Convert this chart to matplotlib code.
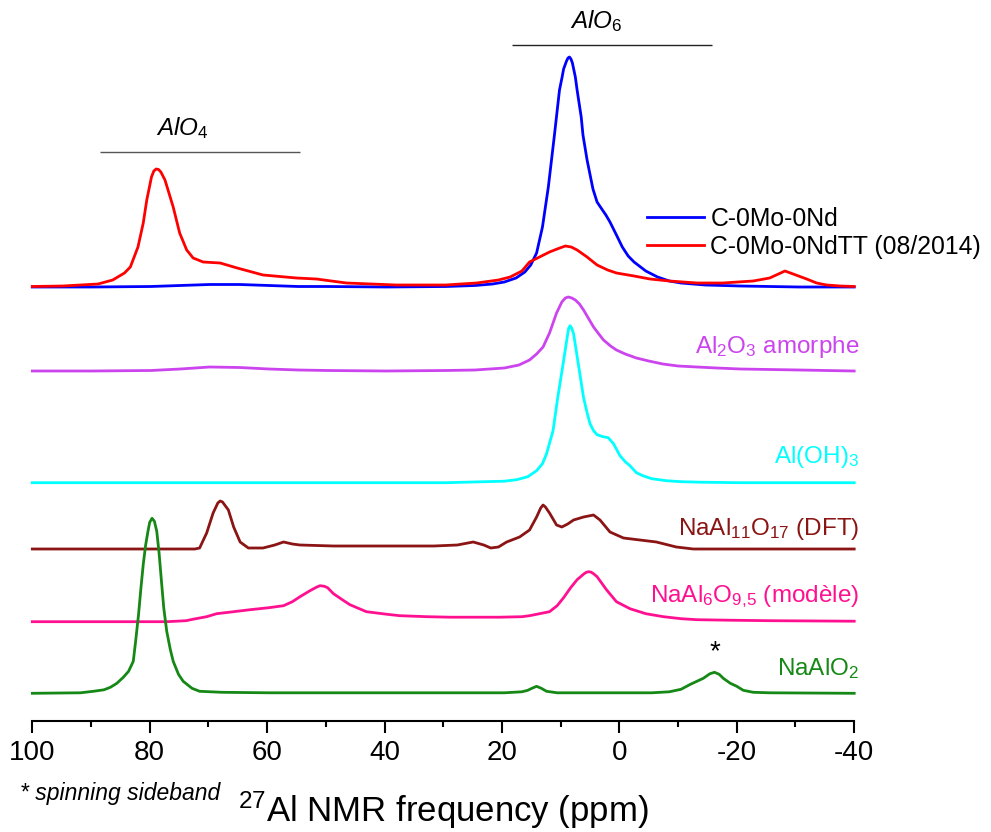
import matplotlib
matplotlib.use("Agg")
import matplotlib.pyplot as plt
from matplotlib.ticker import MultipleLocator

plt.rcParams['font.family'] = ['Liberation Sans', 'DejaVu Sans']
plt.rcParams['mathtext.fontset'] = 'custom'
plt.rcParams['mathtext.rm'] = 'Liberation Sans'
plt.rcParams['mathtext.it'] = 'Liberation Sans:italic'
plt.rcParams['mathtext.bf'] = 'Liberation Sans:bold'
plt.rcParams['mathtext.default'] = 'regular'

# ---------------- data (ppm, intensity above own baseline) ----------------
ppm_c0 = [100, 89.8, 79.8, 74.8, 69.8, 64.7, 59.7, 54.7, 49.7, 39.7, 29.6, 24.6, 21.6, 19.6, 17.6, 16.1,
          15.1, 14.1, 13.1, 12.1, 11.1, 10.2, 9.75, 9.5, 9.0, 8.75, 8.5, 8.25, 8.0, 7.5, 7.2, 6.5, 6.2,
          5.5, 4.5, 3.8, 3.0, 2.3, 1.6, 0.5, -0.5, -1.5, -2.5, -4.5, -6.5, -8.5, -10.5, -14.6, -20.6,
          -30.6, -40]
int_c0 = [0, 0, 0.5, 1.5, 2.5, 2.5, 1.5, 0.5, 0.5, 0, 0.5, 1.5, 3, 5, 9, 15,
          22, 34, 60, 100, 150, 197, 210, 218, 226, 229, 230, 228, 224, 210, 197, 170, 152,
          127, 98, 85, 78, 72, 65, 52, 40, 31, 25, 16, 10, 6, 4, 2, 1,
          0, 0]

ppm_tt = [100, 94.8, 91.8, 88.8, 86.3, 84.3, 83.3, 82.0, 81.1, 80.5, 79.7, 79.3, 78.9, 78.5, 78.1,
          77.4, 76.0, 74.9, 73.7, 72.6, 70.9, 68.0, 65.1, 60.7, 55.0, 51.6, 46.5, 38.0, 29.6, 24.3,
          20.6, 18.6, 16.6, 15.3, 13.6, 11.9, 10.6, 9.2, 8.2, 7.2, 5.5, 3.8, 2.0, 0.5, -2.5, -5.2,
          -8.5, -13.2, -17.6, -22.8, -25.6, -27.1, -28.2, -29.6, -31.9, -33.6, -35.3, -37.6, -40]
int_tt = [0.5, 1, 2, 3, 7, 14, 20, 40, 64, 87, 110, 116, 118, 117.5, 115,
          107, 80, 54, 37, 29, 25, 24, 19, 12, 9, 8, 4, 2, 2, 4,
          7, 10, 16, 25, 30, 35, 38, 41, 40, 37, 30, 22, 17, 14, 11, 8,
          6, 4, 4, 6, 9, 13, 16, 13, 8, 4, 2, 1, 0.5]

ppm_am = [100, 89.8, 79.8, 74.8, 69.8, 64.7, 59.7, 54.7, 49.7, 39.7, 29.6, 24.6, 19.6, 17.1, 15.3,
          14.1, 13.0, 11.9, 10.7, 9.8, 9.2, 8.7, 8.1, 7.5, 6.8, 6.1, 5.2, 4.4, 3.5, 2.7, 1.5, 0.5,
          -1.0, -2.9, -5.0, -7.4, -10.0, -13.2, -16.6, -20.6, -25.6, -30.6, -40]
int_am = [0, 0, 0.5, 2, 4, 3.5, 2, 1, 0.5, 0, 0.5, 1, 3, 6, 11,
          17, 24, 38, 58, 69, 73, 74, 73, 71, 67, 61, 52, 44, 37, 31, 25, 21,
          17, 13, 10, 7, 5, 4, 3, 2, 1.5, 1, 0]

ppm_oh = [100, 59.7, 29.6, 19.6, 17.5, 15.6, 14.1, 13.1, 12.4, 11.3, 10.5, 9.5, 8.9, 8.65, 8.4, 8.15,
          7.8, 7.0, 6.1, 5.5, 5.0, 4.4, 3.8, 2.8, 1.9, 1.0, -0.1, -1.0, -1.8, -2.9, -4.0, -5.5, -8.0,
          -10.5, -13.8, -20.6, -40]
int_oh = [0, 0, 0, 1.5, 3, 6, 12, 19, 29, 52, 85, 122, 145, 154, 157, 155,
          149, 119, 85, 70, 59, 52, 48, 46, 45, 39, 27, 21, 17, 10, 7, 4, 2,
          1, 0.5, 0, 0]

ppm_dft = [100, 79.8, 72.3, 71.5, 70.3, 69.2, 68.4, 68.0, 67.6, 66.6, 65.7, 64.6, 63.2, 60.7, 58.7,
           57.2, 55.7, 54.4, 48.7, 39.7, 31.6, 27.6, 24.9, 23.1, 21.9, 20.6, 19.2, 17.0, 15.3, 14.1,
           13.4, 13.0, 12.6, 11.9, 10.7, 9.8, 8.8, 7.8, 6.1, 4.4, 3.3, 1.6, -0.7, -3.5, -6.3, -9.7,
           -12.6, -20.6, -40]
int_dft = [0, 0, 0, 1, 16, 36, 46, 48, 47, 39, 22, 7, 1, 1, 4,
           7, 5, 4, 3, 3, 3, 4, 7, 4, 1, 2, 7, 12, 19, 32,
           41, 44, 42, 36, 24, 22, 25, 29, 32, 34, 29, 17, 11, 9, 7, 2,
           0, 0, 0]

ppm_mod = [100, 84.8, 77.1, 73.8, 72.6, 70.3, 68.6, 65.7, 62.9, 59.7, 57.2, 55.7, 54.4, 52.7, 51.6,
           51.0, 50.3, 49.7, 48.7, 47.2, 45.9, 43.1, 39.7, 37.4, 32.7, 28.8, 24.6, 20.4, 16.6, 15.3,
           13.6, 11.9, 10.6, 9.5, 8.3, 7.2, 6.0, 5.6, 5.2, 4.8, 4.4, 3.8, 2.2, 0.5, -1.8, -4.5, -7.5,
           -10.5, -13.2, -18.6, -25.6, -40]
int_mod = [0, 0, 0, 1, 2.5, 5, 8, 10, 12, 14, 16, 20, 25, 31, 34.5,
           36, 35.5, 34, 28, 22, 17, 10, 7.5, 6, 5, 4.5, 4.5, 4.5, 5, 6,
           8, 10, 16, 24, 34, 42, 48, 49.5, 50, 49.5, 48, 45, 32, 20, 13, 8, 5,
           3, 2, 1.5, 1, 0.5]

ppm_na = [100, 91.8, 89.6, 87.8, 86.7, 85.6, 84.5, 83.6, 82.8, 82.4, 81.9, 81.5, 81.1, 80.7, 80.3,
          80.0, 79.6, 79.2, 78.8, 78.4, 78.0, 77.6, 77.1, 76.5, 76.0, 75.1, 74.3, 72.8, 71.5, 67.7,
          59.7, 29.6, 19.6, 16.6, 15.6, 14.9, 14.1, 13.3, 12.4, 10.6, 4.5, -5.5, -8.5, -10.5, -12.1,
          -14.3, -15.4, -16.2, -17.0, -17.7, -18.9, -20.0, -21.1, -22.8, -25.6, -40]
int_na = [0, 0.5, 2, 3.5, 6, 10, 16, 22, 32, 52, 79, 105, 129, 148, 162,
          171, 175, 172, 162, 140, 112, 85, 62, 44, 32, 19, 12, 5, 2, 1,
          0.5, 0.5, 0.5, 1.5, 3, 5, 7, 5, 2, 0.5, 0.5, 0.5, 1.5, 4, 9,
          15, 19.5, 21, 19, 15, 10, 7, 3, 1, 0.5, 0]

# region brackets (ppm ranges), label centres and sideband position
alo4_range = [88.4, 54.4]
alo6_range = [18.3, -15.7]
alo4_label_ppm = 74.5
alo6_label_ppm = 3.9
sideband_ppm = -16.3

# ---------------- figure ----------------
W, H = 991, 832
fig = plt.figure(figsize=(W / 100, H / 100), dpi=100)
ax_left, ax_right, ax_bottom = 32.3, 854.2, 720.7
ax = fig.add_axes([ax_left / W, 1 - ax_bottom / H, (ax_right - ax_left) / W, ax_bottom / H])
ax.set_xlim(100, -40)
ax.set_ylim(0, ax_bottom)

lw = 2.0
traces = [
    (ppm_c0, int_c0, 433.7, '#0000FF', 'C-0Mo-0Nd'),
    (ppm_tt, int_tt, 433.7, '#FF0000', 'C-0Mo-0NdTT (08/2014)'),
    (ppm_am, int_am, 349.7, '#CC44EE', None),
    (ppm_oh, int_oh, 238.0, '#00FFFF', None),
    (ppm_dft, int_dft, 171.7, '#8B1414', None),
    (ppm_mod, int_mod, 99.0, '#FF1090', None),
    (ppm_na, int_na, 27.4, '#158815', None),
]
handles = []
for xs, ys, off, col, lab in traces:
    ln, = ax.plot(xs, [off + v for v in ys], color=col, lw=lw, solid_joinstyle='round',
                  label=lab, clip_on=False)
    if lab:
        handles.append(ln)

# spines / ticks
for s in ['left', 'right', 'top']:
    ax.spines[s].set_visible(False)
ax.spines['bottom'].set_linewidth(1.5)
ax.set_yticks([])
ax.xaxis.set_major_locator(MultipleLocator(20))
ax.xaxis.set_minor_locator(MultipleLocator(10))
ax.tick_params(axis='x', which='major', direction='out', length=8.6, width=1.5, pad=5,
               labelsize=20)
ax.tick_params(axis='x', which='minor', direction='out', length=4.5, width=1.5)
ax.set_xticklabels([f"{int(v)}" for v in ax.get_xticks()])

# axis label
ax.set_xlabel(r'$^{27}$Al NMR frequency (ppm)', fontsize=25, va='baseline')
ax.xaxis.set_label_coords(0.5, (ax_bottom - 821.7) / ax_bottom)

fig.text(20 / W, 1 - 800 / H, '* spinning sideband', fontsize=16.5, style='italic',
         ha='left', va='baseline')

# legend
ax.legend(handles=handles, loc='upper left', bbox_to_anchor=(646.7 / W, 1 - 207 / H),
          bbox_transform=fig.transFigure, frameon=False, fontsize=17.8, borderpad=0,
          borderaxespad=0, handlelength=2.3, handletextpad=0.28, labelspacing=0.15)

# right-side labels
xr = -40.8
lab_kw = dict(ha='right', va='baseline', fontsize=17.5, clip_on=False)
ax.text(xr, 367.4, 'Al$_2$O$_3$ amorphe', color='#CC44EE', **lab_kw)
ax.text(xr, 258.0, 'Al(OH)$_3$', color='#00FFFF', **lab_kw)
ax.text(xr, 185.7, 'NaAl$_{11}$O$_{17}$ (DFT)', color='#8B1414', **lab_kw)
ax.text(xr, 119.0, 'NaAl$_6$O$_{9{,}5}$ (modèle)', color='#FF1090', **lab_kw)
ax.text(xr, 45.7, 'NaAlO$_2$', color='#158815', **lab_kw)
ax.text(sideband_ppm, 68.7, '*', ha='center', va='center', fontsize=20, color='black')

# AlO4 / AlO6 brackets
ax.hlines(569.0, alo4_range[0], alo4_range[1], color='#555555', lw=1.0, clip_on=False)
ax.hlines(675.7, alo6_range[0], alo6_range[1], color='#222222', lw=1.0, clip_on=False)
ax.text(alo4_label_ppm, 585.7, r'$\mathit{AlO_4}$', ha='center', va='baseline', fontsize=17.5)
ax.text(alo6_label_ppm, 692.4, r'$\mathit{AlO_6}$', ha='center', va='baseline', fontsize=17.5)

fig.savefig('out.png', dpi=100)
